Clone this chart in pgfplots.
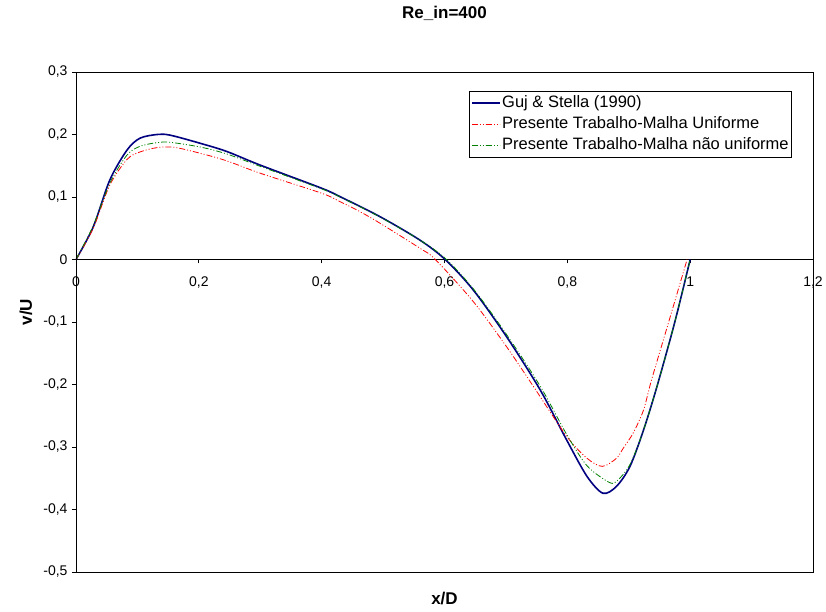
\documentclass[border=0pt]{standalone}
\usepackage{fontspec}
\setmainfont{Liberation Sans}
\usepackage{pgfplots}
\pgfplotsset{compat=1.18}

\definecolor{navyline}{RGB}{0,0,128}
\definecolor{greenline}{RGB}{0,128,0}

\begin{document}
\begin{tikzpicture}
\begin{axis}[
  scale only axis, width=737pt, height=500pt,
  xmin=0, xmax=1.2, ymin=-0.5, ymax=0.3,
  xtick={0,0.2,0.4,0.6,0.8,1,1.2},
  ytick={-0.5,-0.4,-0.3,-0.2,-0.1,0,0.1,0.2,0.3},
  axis x line=middle, axis y line=left,
  axis line style={-, line width=0.8pt},
  hide obscured x ticks=false, hide obscured y ticks=false,
  tick align=outside, major tick length=4pt,
  tick style={black, line width=0.8pt},
  /pgf/number format/.cd, use comma, fixed, precision=1, assume math mode=true,
  /pgfplots/.cd,
  ticklabel style={font=\fontsize{14}{16}\selectfont},
  xticklabel style={yshift=-10pt},
  yticklabel style={xshift=-1pt},
  title={Re\_in=400},
  title style={font=\fontsize{17}{19}\selectfont\bfseries, at={(axis description cs:0.5,1)}, anchor=center, yshift=53pt},
  xlabel={x/D},
  xlabel style={font=\fontsize{17}{19}\selectfont\bfseries, at={(axis description cs:0.5,0)}, anchor=center, yshift=-27pt},
  ylabel={v/U},
  ylabel style={font=\fontsize{17}{19}\selectfont\bfseries, at={(axis description cs:-0.068,0.52)}, anchor=center},
  legend style={at={(axis description cs:0.9715,0.962)}, anchor=north east,
    draw=black, line width=0.6pt, font=\fontsize{16.5}{19}\selectfont,
    inner sep=1.5pt, legend cell align=left,
    nodes={inner sep=1.5pt, text height=13pt, text depth=5pt}},
  legend image code/.code={\draw[mark repeat=2,mark phase=2] plot coordinates {(0pt,0pt) (14pt,0pt) (28pt,0pt)};},
]
\addplot[navyline, line width=1.6pt, smooth] coordinates {
(0,0)(0.028,0.052)(0.055,0.127)(0.083,0.175)(0.104,0.194)(0.132,0.2)(0.153,0.199)
(0.202,0.186)(0.245,0.173)(0.30,0.151)(0.40,0.114)(0.43,0.1005)(0.495,0.0685)
(0.56,0.031)(0.601,0)(0.647,-0.049)(0.701,-0.1235)(0.756,-0.209)(0.799,-0.289)
(0.832,-0.347)(0.858,-0.374)(0.88,-0.363)(0.902,-0.331)(0.924,-0.273)(0.946,-0.203)
(0.975,-0.1)(1.0,0)};
\addlegendentry{Guj \& Stella (1990)}
\addplot[red, line width=0.8pt, smooth, dash pattern=on 6pt off 2pt on 1pt off 2pt on 1pt off 2pt] coordinates {
(0,0)(0.028,0.05)(0.055,0.119)(0.083,0.160)(0.104,0.172)(0.132,0.179)(0.16,0.1795)
(0.202,0.17)(0.245,0.158)(0.30,0.138)(0.40,0.106)(0.43,0.0925)(0.4625,0.0765)
(0.495,0.058)(0.56,0.018)(0.585,0)(0.647,-0.0675)(0.701,-0.1395)(0.745,-0.2035)
(0.799,-0.283)(0.832,-0.318)(0.857,-0.331)(0.88,-0.318)(0.891,-0.302)(0.907,-0.278)
(0.924,-0.241)(0.937,-0.193)(0.965,-0.1)(0.995,0)};
\addlegendentry{Presente Trabalho-Malha Uniforme}
\addplot[greenline, line width=0.8pt, smooth, dash pattern=on 6pt off 2pt on 1pt off 2pt on 1pt off 2pt] coordinates {
(0,0)(0.028,0.054)(0.055,0.122)(0.083,0.167)(0.104,0.181)(0.132,0.187)(0.153,0.1875)
(0.202,0.18)(0.245,0.169)(0.30,0.149)(0.40,0.113)(0.43,0.1)(0.495,0.068)(0.56,0.031)
(0.601,0.002)(0.647,-0.047)(0.701,-0.12)(0.756,-0.203)(0.799,-0.28)(0.832,-0.33)
(0.867,-0.356)(0.88,-0.355)(0.902,-0.328)(0.924,-0.273)(0.946,-0.203)(0.975,-0.1)(1.0,0)};
\addlegendentry{Presente Trabalho-Malha não uniforme}
\coordinate (sw) at (rel axis cs:0,0);
\coordinate (ne) at (rel axis cs:1,1);
\end{axis}
\draw[line width=0.8pt] (sw) rectangle (ne);
\pgfresetboundingbox
\path[use as bounding box] ([shift={(-76pt,-40pt)}]sw) rectangle ([shift={(13pt,72pt)}]ne);
\end{tikzpicture}
\end{document}
